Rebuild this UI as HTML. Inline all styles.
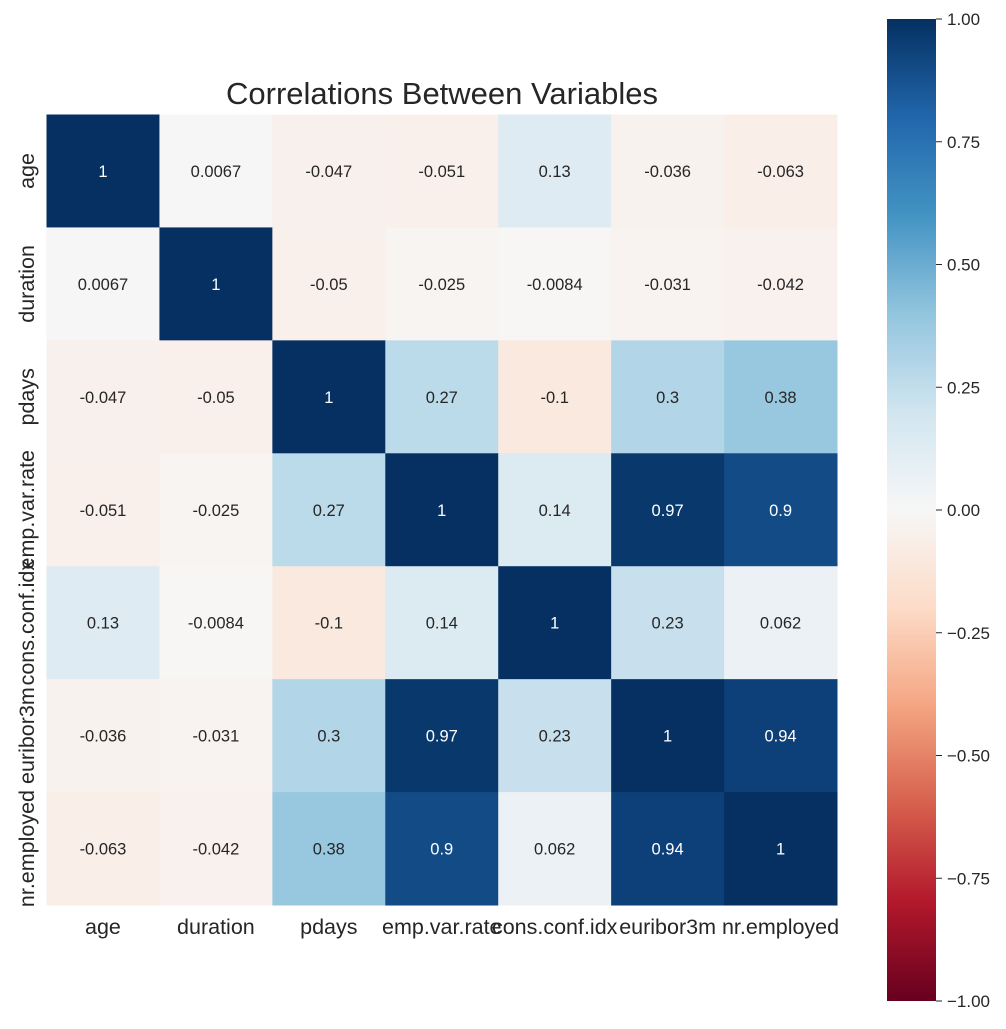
<!DOCTYPE html>
<html><head><meta charset="utf-8"><style>
body{margin:0;background:#fff;width:1006px;height:1024px;overflow:hidden;font-family:"Liberation Sans",sans-serif}
</style></head><body>
<svg id="s" width="1006" height="1024" xmlns="http://www.w3.org/2000/svg" font-family="Liberation Sans, sans-serif">
<defs><linearGradient id="g" x1="0" y1="1" x2="0" y2="0">
<stop offset="0" stop-color="#67001f"/><stop offset="0.1" stop-color="#b2182b"/><stop offset="0.2" stop-color="#d6604d"/><stop offset="0.3" stop-color="#f4a582"/><stop offset="0.4" stop-color="#fddbc7"/><stop offset="0.5" stop-color="#f7f7f7"/><stop offset="0.6" stop-color="#d1e5f0"/><stop offset="0.7" stop-color="#92c5de"/><stop offset="0.8" stop-color="#4393c3"/><stop offset="0.9" stop-color="#2166ac"/><stop offset="1" stop-color="#053061"/></linearGradient></defs>
<text x="442" y="104" font-size="31" text-anchor="middle" fill="#262626">Correlations Between Variables</text>
<rect x="887" y="19" width="49" height="982" fill="url(#g)"/>
<g id="cells"></g>
</svg>
<script>
var names=["age","duration","pdays","emp.var.rate","cons.conf.idx","euribor3m","nr.employed"];
var M=[[1,0.0067,-0.047,-0.051,0.13,-0.036,-0.063],
[0.0067,1,-0.05,-0.025,-0.0084,-0.031,-0.042],
[-0.047,-0.05,1,0.27,-0.1,0.3,0.38],
[-0.051,-0.025,0.27,1,0.14,0.97,0.9],
[0.13,-0.0084,-0.1,0.14,1,0.23,0.062],
[-0.036,-0.031,0.3,0.97,0.23,1,0.94],
[-0.063,-0.042,0.38,0.9,0.062,0.94,1]];
var C=["67001f","b2182b","d6604d","f4a582","fddbc7","f7f7f7","d1e5f0","92c5de","4393c3","2166ac","053061"].map(h=>[0,2,4].map(i=>parseInt(h.substr(i,2),16)));
function col(v){var t=(v+1)/2*10;var i=Math.min(9,Math.floor(t));var f=t-i;var a=C[i],b=C[i+1];return "rgb("+a.map((x,k)=>Math.round(x+(b[k]-x)*f)).join(",")+")";}
var s="",x0=46.5,y0=114.5,w=112.93;
for(var r=0;r<7;r++)for(var c=0;c<7;c++){var v=M[r][c];
s+='<rect x="'+(x0+c*w)+'" y="'+(y0+r*w)+'" width="'+(w+0.5)+'" height="'+(w+0.5)+'" fill="'+col(v)+'"/>';
s+='<text x="'+(x0+c*w+w/2)+'" y="'+(y0+r*w+w/2+6)+'" font-size="16.5" text-anchor="middle" fill="'+(Math.abs(v)>0.6?"#fff":"#262626")+'">'+v+'</text>';}
for(var i=0;i<7;i++){
s+='<text x="'+(x0+i*w+w/2)+'" y="934" font-size="21.5" text-anchor="middle" fill="#262626">'+names[i]+'</text>';
var cy=y0+i*w+w/2;
s+='<text transform="translate(34,'+cy+') rotate(-90)" font-size="21.5" text-anchor="middle" fill="#262626">'+names[i]+'</text>';}
var ticks=["1.00","0.75","0.50","0.25","0.00","\u22120.25","\u22120.50","\u22120.75","\u22121.00"];
for(var i=0;i<9;i++){var y=19+i*982/8;
s+='<line x1="936" x2="942" y1="'+y+'" y2="'+y+'" stroke="#262626" stroke-width="1"/>';
s+='<text x="947" y="'+(y+6)+'" font-size="17" fill="#262626">'+ticks[i]+'</text>';}
document.getElementById("cells").innerHTML=s;
</script>
</body></html>
